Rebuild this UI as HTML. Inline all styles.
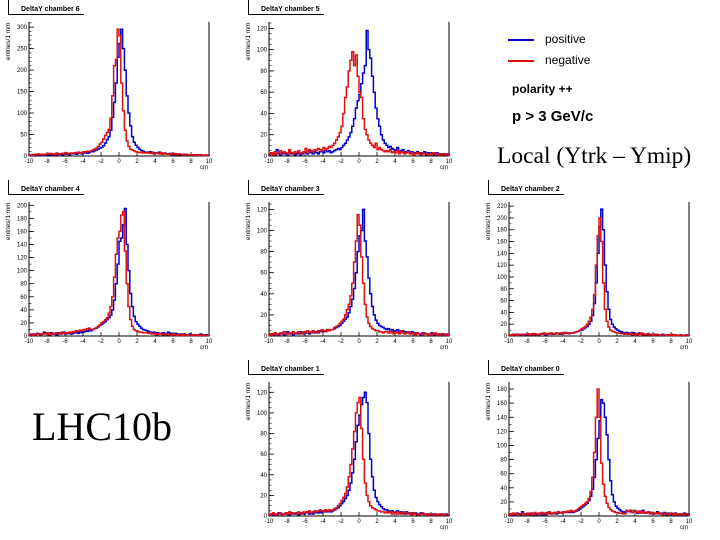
<!DOCTYPE html>
<html><head><meta charset="utf-8"><style>
body{margin:0;background:#fff;width:720px;height:540px;overflow:hidden}
svg{display:block}
</style></head><body>
<svg id="c" width="720" height="540" xmlns="http://www.w3.org/2000/svg" font-family="Liberation Sans, sans-serif">
<g>
<line x1="508" y1="40" x2="534" y2="40" stroke="#0000cc" stroke-width="2"/>
<text x="545" y="43" font-size="12">positive</text>
<line x1="508" y1="61" x2="534" y2="61" stroke="#dd1111" stroke-width="2"/>
<text x="545" y="64" font-size="12">negative</text>
</g>
<text x="512" y="93" font-size="12" font-weight="bold">polarity ++</text>
<text x="512" y="121" font-size="15" font-weight="bold">p &gt; 3 GeV/c</text>
<text x="497" y="163" font-size="23.5" font-family="Liberation Serif, serif">Local (Ytrk – Ymip)</text>
<text x="32" y="440" font-size="40" font-family="Liberation Serif, serif">LHC10b</text>
</svg>
<script>
const binEdges=[-10,10];
const xTicks=[-10,-8,-6,-4,-2,0,2,4,6,8,10];
// chamber 6
const c6BlueL=[2,1,3,2,2,3,1,2,4,3,2,3,5,3,4,2,4,5,3,6,4,5,3,6,5,7,4,6,8,5,7,9,6,8,10];
const c6BlueC=[10,12,14,16,18,20,24,30,38,45,60,90,125,170,230,262,295,250,200,140,100,70,45,32,25,20,16,13,11,9];
const c6BlueR=[9,8,10,7,8,6,7,9,5,6,7,5,4,6,5,3,5,4,3,4,2,4,3,2,3,2,3,1,2,3,2,1,2,1,2];
const c6RedL=[3,2,2,4,3,5,3,4,2,4,5,6,4,5,3,7,5,4,6,5,8,6,5,7,6,8,7,9,6,8,10,9,11,10,12];
const c6RedC=[14,16,18,22,28,32,40,48,55,62,88,140,210,225,295,280,170,105,60,35,22,16,14,12,10,9,8,9,7,8];
const c6RedR=[7,8,6,9,5,7,6,5,8,4,6,5,4,5,3,6,4,3,5,4,3,2,4,3,2,3,2,3,2,1,3,2,1,2,2];
const c6Ticks=[0,50,100,150,200,250,300];
// chamber 5
const c5BlueL=[1,3,2,1,6,2,1,3,2,2,1,4,2,3,1,2,3,1,2,4,3,2,5,3,2,4,3,2,4,5,3,6,4,5,3];
const c5BlueC=[4,5,6,7,6,8,10,12,15,18,22,28,35,45,52,58,68,78,85,118,100,92,75,60,45,35,28,20,15,12];
const c5BlueR=[10,8,9,7,6,5,8,4,5,6,3,4,5,3,4,2,3,4,2,3,2,4,1,3,2,3,1,2,3,1,2,1,2,1,2];
const c5RedL=[2,3,1,4,2,3,5,2,4,3,2,6,3,2,4,3,5,2,3,4,7,3,6,5,4,6,5,7,6,5,8,6,7,9,8];
const c5RedC=[10,12,15,18,22,28,40,55,65,80,90,98,85,95,75,60,55,35,25,20,15,12,10,8,12,6,8,6,5,4];
const c5RedR=[5,4,6,3,4,3,5,2,4,3,2,3,4,2,3,1,2,3,2,1,3,2,2,1,2,1,3,2,1,2,1,2,1,1,2];
const c5Ticks=[0,20,40,60,80,100,120];
// chamber 4
const c4BlueL=[1,2,3,2,4,3,2,3,6,4,3,2,5,3,4,2,5,3,4,6,3,4,5,3,4,6,5,4,7,5,6,8,7,9,8];
const c4BlueC=[10,11,12,14,16,18,20,22,25,28,32,40,55,80,110,145,150,170,195,140,100,65,45,30,22,18,15,12,10,9];
const c4BlueR=[8,7,6,5,6,4,5,4,3,5,4,3,6,4,3,2,4,3,2,3,2,3,2,1,3,2,1,2,2,1,3,2,1,2,1];
const c4RedL=[2,3,1,2,3,4,2,3,4,3,5,2,3,4,3,5,4,3,6,4,5,4,6,5,7,6,8,7,9,8,10,9,11,12,10];
const c4RedC=[10,11,13,15,17,20,22,25,28,35,45,60,90,125,150,160,185,190,130,80,45,25,15,10,8,7,6,6,5,5];
const c4RedR=[5,4,5,3,4,3,2,4,3,2,3,2,3,2,1,3,2,1,2,3,1,2,1,2,1,1,2,1,2,1,1,2,1,1,1];
const c4Ticks=[0,20,40,60,80,100,120,140,160,180,200];
// chamber 3
const c3BlueL=[1,2,1,3,2,1,2,3,1,2,4,2,3,1,2,3,2,4,3,2,3,4,2,3,5,3,4,3,5,4,5,4,6,5,6];
const c3BlueC=[6,7,8,9,10,12,14,16,18,22,28,35,45,60,80,95,100,120,90,75,55,40,28,20,15,12,10,9,8,7];
const c3BlueR=[6,7,5,6,4,5,6,3,4,5,3,4,3,2,4,3,2,3,2,1,3,2,2,1,2,3,1,2,1,2,1,2,1,1,2];
const c3RedL=[2,1,2,3,1,2,3,2,4,2,3,2,3,4,2,3,4,3,2,4,3,5,4,3,5,4,3,5,4,6,5,4,6,5,6];
const c3RedC=[6,8,9,10,12,14,16,20,25,30,38,50,70,90,115,105,75,50,30,18,12,9,7,6,5,5,4,4,3,4];
const c3RedR=[4,3,5,3,2,4,3,2,5,3,2,3,4,2,3,2,1,3,2,2,1,3,2,1,2,1,2,3,1,2,1,1,2,1,2];
const c3Ticks=[0,20,40,60,80,100,120];
// chamber 2
const c2BlueL=[1,2,1,2,3,1,2,2,3,2,1,3,2,4,2,3,2,3,4,3,2,4,3,5,3,4,5,4,3,5,4,6,5,4,5];
const c2BlueC=[5,6,7,8,9,10,12,14,16,20,25,35,55,90,140,185,215,180,120,75,45,28,20,15,12,10,8,7,6,5];
const c2BlueR=[6,5,4,6,5,3,4,5,3,4,2,3,4,2,3,2,3,2,1,2,3,1,2,2,1,2,1,2,1,1,2,1,1,2,1];
const c2RedL=[2,1,3,2,1,2,3,2,2,3,4,2,3,2,4,3,2,4,3,5,3,4,3,5,4,3,5,4,5,4,6,5,4,5,5];
const c2RedC=[5,6,7,8,10,12,14,16,20,25,32,45,70,120,170,200,160,90,45,25,15,10,8,7,6,5,5,4,4,3];
const c2RedR=[4,3,5,2,3,4,2,3,5,2,3,2,4,2,3,1,2,3,2,1,2,2,1,2,1,3,1,2,1,1,2,1,1,1,2];
const c2Ticks=[0,20,40,60,80,100,120,140,160,180,200,220];
// chamber 1
const c1BlueL=[1,2,1,2,1,3,2,1,2,3,2,1,3,2,2,3,1,2,3,2,3,4,2,3,2,4,3,3,4,3,5,4,4,5,4];
const c1BlueC=[5,6,7,8,10,12,14,17,20,25,32,42,55,72,88,98,108,115,120,110,80,55,38,25,18,14,11,9,7,6];
const c1BlueR=[6,5,4,5,3,4,5,3,4,3,2,4,3,2,3,2,3,1,2,3,2,1,2,2,1,2,1,2,1,1,2,1,1,2,1];
const c1RedL=[1,2,3,1,2,2,3,1,2,3,2,4,2,3,3,2,4,3,2,4,3,4,5,3,4,5,4,5,6,5,4,6,5,6,5];
const c1RedC=[6,7,8,10,12,15,18,22,28,38,50,65,82,100,110,115,85,55,32,20,14,10,8,7,6,5,5,4,4,3];
const c1RedR=[4,3,4,2,3,4,2,3,2,3,4,2,3,2,1,3,2,2,1,2,3,1,2,1,2,1,1,2,1,2,1,1,2,1,1];
const c1Ticks=[0,20,40,60,80,100,120];
// chamber 0
const c0BlueL=[2,3,1,2,4,3,2,6,3,2,3,2,4,2,3,2,3,4,2,3,2,5,4,3,4,5,3,4,5,4,6,5,6,5,6];
const c0BlueC=[5,6,7,8,10,12,14,16,18,22,28,38,55,80,110,135,165,160,140,115,80,50,30,20,14,11,9,7,6,5];
const c0BlueR=[7,6,8,5,6,7,4,5,6,8,4,5,6,4,5,3,4,6,3,4,3,5,2,4,3,2,3,4,2,3,2,3,4,2,3];
const c0RedL=[3,2,4,2,3,2,3,4,2,3,2,4,3,2,5,3,4,2,5,3,4,3,6,4,3,5,4,6,5,4,6,5,7,6,8];
const c0RedC=[6,7,8,10,12,14,16,18,20,25,35,55,90,140,180,140,75,45,28,18,12,9,7,6,5,5,4,4,3,3];
const c0RedR=[8,6,7,5,8,6,5,7,4,6,5,4,6,3,5,4,3,5,4,3,2,4,3,2,3,4,2,3,2,3,2,3,2,3,2];
const c0Ticks=[0,20,40,60,80,100,120,140,160,180];

const NS='http://www.w3.org/2000/svg';
const svg=document.getElementById('c');
function mk(tag,attrs,parent){const e=document.createElementNS(NS,tag);for(const k in attrs)e.setAttribute(k,attrs[k]);parent.appendChild(e);return e;}

function panel(num,px,py,ymax,ticks,blue,red,minorStep){
  const g=mk('g',{},svg);
  
  
  const x0=px+29,x1=px+209,yb=py+156,yt=py+22;
  const sx=v=>x0+(v-binEdges[0])/(binEdges[1]-binEdges[0])*(x1-x0);
  const sy=v=>yb-Math.min(v,ymax)/ymax*(yb-yt);
  const tl=mk('path',{d:`M${px+8.5},${py}V${py+14.5}H${px+84}`,stroke:'#000',fill:'none','stroke-width':1},g);
  
  
  const tt=mk('text',{x:px+21,y:py+11,'font-size':7,'font-weight':'bold'},g);
  tt.textContent='DeltaY chamber '+num;
  
  
  const yt_=mk('text',{x:0,y:0,'font-size':6.5,transform:`translate(${px+10},${py+60}) rotate(-90)`},g);
  yt_.textContent='entries/1 mm';
  
  
  const xt=mk('text',{x:px+200,y:py+169,'font-size':6},g);
  xt.textContent='cm';
  
  
  const fr=mk('path',{d:`M${x0},${yt}V${yb}H${x1}V${yt}`,stroke:'#000',fill:'none','stroke-width':1},g);
  
  
  for(const t of ticks){
    const y=sy(t);
    const l=mk('line',{x1:x0,x2:x0+5,y1:y,y2:y,stroke:'#000','stroke-width':0.8},g);
    
    
    const tx=mk('text',{x:x0-2,y:y+2,'font-size':6,'text-anchor':'end'},g);
    tx.textContent=t;
    
    
  }
  for(let v=minorStep;v<ymax;v+=minorStep){
    const y=sy(v);
    const l=mk('line',{x1:x0,x2:x0+2.5,y1:y,y2:y,stroke:'#000','stroke-width':0.6},g);
    
    
  }
  for(const t of xTicks){
    const x=sx(t);
    const l=mk('line',{x1:x,x2:x,y1:yb,y2:yb-4,stroke:'#000','stroke-width':0.8},g);
    
    
    const tx=mk('text',{x:x,y:yb+7,'font-size':6,'text-anchor':'middle'},g);
    tx.textContent=t;
    
    
  }
  function hist(vals,color,name){
    const n=vals.length,w=(binEdges[1]-binEdges[0])/n;
    let d=`M${sx(binEdges[0])},${sy(0)}`;
    vals.forEach((v,i)=>{const xa=sx(binEdges[0]+i*w),xb=sx(binEdges[0]+(i+1)*w);d+=`L${xa},${sy(v)}L${xb},${sy(v)}`;});
    d+=`L${sx(binEdges[1])},${sy(0)}`;
    const p=mk('path',{d:d,stroke:color,fill:'none','stroke-width':1.5},g);
    
    
  }
  hist(blue,'#0000cc','positive-histogram');
  hist(red,'#dd1111','negative-histogram');
}
panel(6,0,0,312,c6Ticks,[...c6BlueL,...c6BlueC,...c6BlueR],[...c6RedL,...c6RedC,...c6RedR],10);
panel(5,240,0,126,c5Ticks,[...c5BlueL,...c5BlueC,...c5BlueR],[...c5RedL,...c5RedC,...c5RedR],5);
panel(4,0,180,205,c4Ticks,[...c4BlueL,...c4BlueC,...c4BlueR],[...c4RedL,...c4RedC,...c4RedR],10);
panel(3,240,180,127,c3Ticks,[...c3BlueL,...c3BlueC,...c3BlueR],[...c3RedL,...c3RedC,...c3RedR],5);
panel(2,480,180,227,c2Ticks,[...c2BlueL,...c2BlueC,...c2BlueR],[...c2RedL,...c2RedC,...c2RedR],10);
panel(1,240,360,130,c1Ticks,[...c1BlueL,...c1BlueC,...c1BlueR],[...c1RedL,...c1RedC,...c1RedR],5);
panel(0,480,360,190,c0Ticks,[...c0BlueL,...c0BlueC,...c0BlueR],[...c0RedL,...c0RedC,...c0RedR],10);
</script>
</body></html>
